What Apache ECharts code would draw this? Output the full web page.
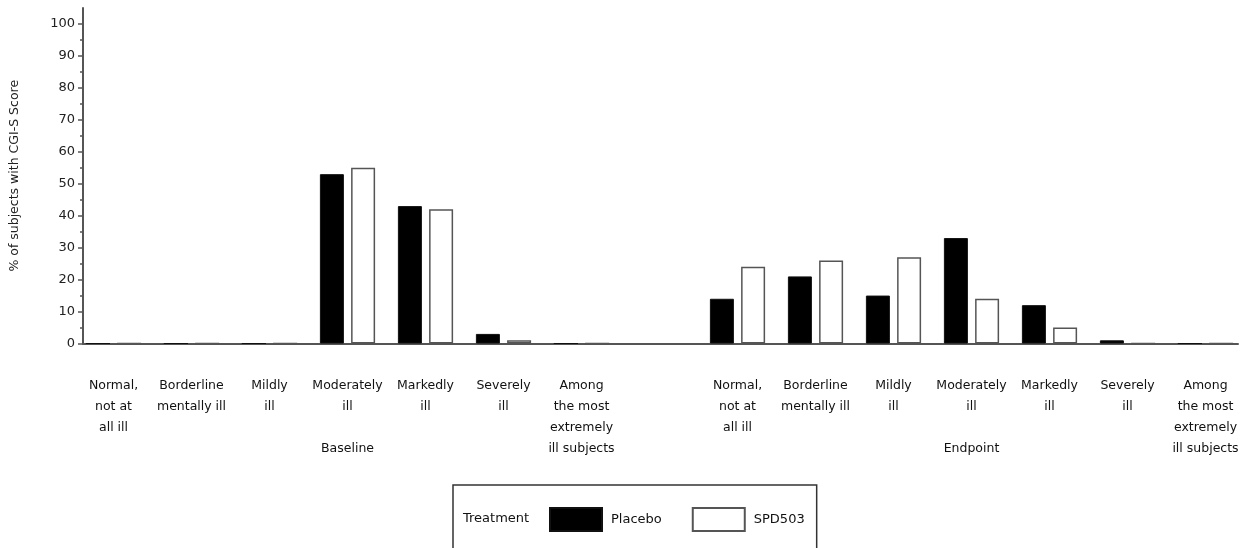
<!DOCTYPE html>
<html>
<head>
<meta charset="utf-8">
<script src="https://cdn.jsdelivr.net/npm/echarts@6/dist/echarts.min.js"></script>
<style>
html,body{margin:0;padding:0;background:#fff;}
#chart{width:1252px;height:548px;}
</style>
</head>
<body>
<div id="chart"></div>
<script>
// ---- data ----
const categories = [
  'Normal,\nnot at\nall ill', 'Borderline\nmentally ill', 'Mildly\nill', 'Moderately\nill\n\nBaseline',
  'Markedly\nill', 'Severely\nill', 'Among\nthe most\nextremely\nill subjects',
  '',
  'Normal,\nnot at\nall ill', 'Borderline\nmentally ill', 'Mildly\nill', 'Moderately\nill\n\nEndpoint',
  'Markedly\nill', 'Severely\nill', 'Among\nthe most\nextremely\nill subjects'
];
const placebo = [0, 0, 0, 53, 43, 3, 0, null, 14, 21, 15, 33, 12, 1, 0];
const spd503  = [0, 0, 0, 55, 42, 1, 0, null, 24, 26, 27, 14, 5, 0, 0];
const seriesNames = ['Placebo', 'SPD503'];
const majorTicks = [0, 10, 20, 30, 40, 50, 60, 70, 80, 90, 100];
const minorTicks = [5, 15, 25, 35, 45, 55, 65, 75, 85, 95];
const yAxisTitle = '% of subjects with CGI-S Score';
const legendTitle = 'Treatment';

const FONT = 'DejaVu Sans';
const chart = echarts.init(document.getElementById('chart'), null, {renderer: 'canvas'});
const yTop = 8, yBottom = 204.5;
chart.setOption({
  animation: false,
  backgroundColor: '#fff',
  grid: [
    {left: 74.5, width: 1170, top: yTop, bottom: yBottom},
    {left: 82.5, right: 14, top: yTop, bottom: yBottom}
  ],
  xAxis: [
    {
      gridIndex: 0, type: 'category', data: categories,
      axisLine: {show: false}, axisTick: {show: false},
      axisLabel: {
        interval: 0, margin: 32, color: '#111',
        fontFamily: FONT, fontSize: 12.5, lineHeight: 21, align: 'center'
      }
    },
    {
      gridIndex: 1, type: 'value', min: 0, max: 1,
      axisLine: {show: true, onZero: false, lineStyle: {color: '#555', width: 2}},
      axisTick: {show: false}, axisLabel: {show: false}, splitLine: {show: false}
    }
  ],
  yAxis: [
    {
      gridIndex: 0, type: 'value', min: 0, max: 105, show: false
    },
    {
      gridIndex: 1, type: 'value', min: 0, max: 105, position: 'left',
      name: yAxisTitle, nameLocation: 'middle', nameGap: 62,
      nameTextStyle: {fontFamily: FONT, fontSize: 12.5, color: '#222'},
      axisLine: {show: true, lineStyle: {color: '#555', width: 2}},
      axisTick: {show: true, customValues: majorTicks, length: 5, lineStyle: {color: '#555', width: 1.5}},
      axisLabel: {customValues: majorTicks, margin: 8, fontFamily: FONT, fontSize: 13, color: '#222'},
      splitLine: {show: false}
    },
    {
      gridIndex: 1, type: 'value', min: 0, max: 105, position: 'left',
      axisLine: {show: false},
      axisTick: {show: true, customValues: minorTicks, length: 3, lineStyle: {color: '#555', width: 1.5}},
      axisLabel: {show: false}, splitLine: {show: false}
    }
  ],
  legend: {
    data: seriesNames,
    left: 453, top: 485,
    padding: [22, 12, 40, 96],
    itemWidth: 52, itemHeight: 23, itemGap: 30,
    icon: 'rect',
    borderColor: '#333', borderWidth: 1.5, backgroundColor: '#fff',
    textStyle: {fontFamily: FONT, fontSize: 13, color: '#111', padding: [0, 0, 0, 4]}
  },
  graphic: [{
    type: 'text', left: 463, top: 512, z: 100,
    style: {text: legendTitle, fontFamily: FONT, fontSize: 13, fill: '#111'}
  }],
  series: [
    {
      name: seriesNames[0], type: 'bar', xAxisIndex: 0, yAxisIndex: 0,
      data: placebo, barWidth: 24, barGap: '30%',
      itemStyle: {color: '#000', borderColor: '#111', borderWidth: 1}
    },
    {
      name: seriesNames[1], type: 'bar', xAxisIndex: 0, yAxisIndex: 0,
      data: spd503, barWidth: 24,
      itemStyle: {color: '#fff', borderColor: '#555', borderWidth: 1.5}
    }
  ]
});
</script>
</body>
</html>
